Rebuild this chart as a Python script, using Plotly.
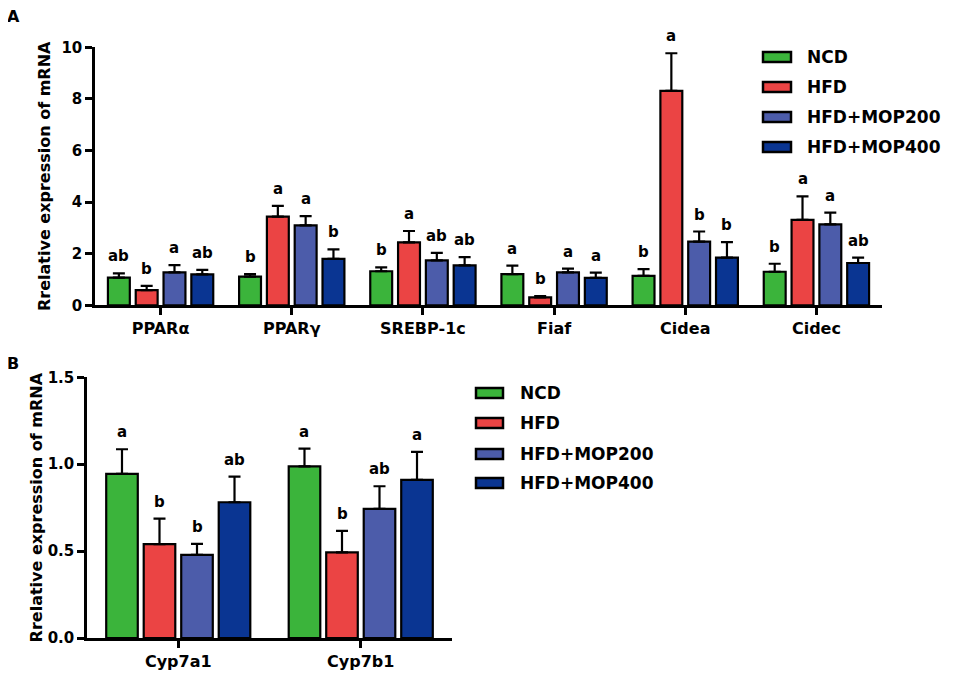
import plotly.graph_objects as go

# ---- data ----
groups = ["NCD", "HFD", "HFD+MOP200", "HFD+MOP400"]
colors = ["#3BB43B", "#EB4444", "#4C5CAA", "#0A3592"]

genes_a = ["PPARα", "PPARγ", "SREBP-1c", "Fiaf", "Cidea", "Cidec"]
mean_a = {
    "NCD":        [1.07, 1.11, 1.32, 1.21, 1.14, 1.30],
    "HFD":        [0.59, 3.44, 2.44, 0.31, 8.31, 3.31],
    "HFD+MOP200": [1.28, 3.10, 1.74, 1.28, 2.47, 3.14],
    "HFD+MOP400": [1.20, 1.80, 1.55, 1.06, 1.85, 1.64],
}
sem_a = {
    "NCD":        [0.17, 0.10, 0.15, 0.33, 0.26, 0.31],
    "HFD":        [0.16, 0.41, 0.44, 0.05, 1.46, 0.91],
    "HFD+MOP200": [0.28, 0.36, 0.29, 0.14, 0.39, 0.45],
    "HFD+MOP400": [0.17, 0.37, 0.32, 0.21, 0.60, 0.21],
}
letters_a = {
    "NCD":        ["ab", "b", "b", "a", "b", "b"],
    "HFD":        ["b", "a", "a", "b", "a", "a"],
    "HFD+MOP200": ["a", "a", "ab", "a", "b", "a"],
    "HFD+MOP400": ["ab", "b", "ab", "a", "b", "ab"],
}

genes_b = ["Cyp7a1", "Cyp7b1"]
mean_b = {
    "NCD":        [0.944, 0.988],
    "HFD":        [0.540, 0.493],
    "HFD+MOP200": [0.478, 0.743],
    "HFD+MOP400": [0.781, 0.910],
}
sem_b = {
    "NCD":        [0.142, 0.102],
    "HFD":        [0.147, 0.123],
    "HFD+MOP200": [0.063, 0.130],
    "HFD+MOP400": [0.148, 0.161],
}
letters_b = {
    "NCD":        ["a", "a"],
    "HFD":        ["b", "b"],
    "HFD+MOP200": ["b", "ab"],
    "HFD+MOP400": ["ab", "a"],
}

# page has an 8px body margin, so the figure is drawn 8px in from the corner
PAD = 8
W, H = 957 - 2 * PAD, 673 - PAD
FONT = "DejaVu Sans"


def px(x):
    return (x - PAD) / W


def py(y):
    return 1 - (y - PAD) / H


def txt(size):
    return dict(family=FONT, size=size, color="black", weight="bold")


fig = go.Figure()

# (categories, means, errors, letters, x axis, y axis, slot, bar width) -- slot/width in category units
panels = [
    (genes_a, mean_a, sem_a, letters_a, "x", "y", 0.212, 0.167),
    (genes_b, mean_b, sem_b, letters_b, "x2", "y2", 0.2055, 0.173),
]

annotations = []
for genes, means, sems, letters, xa, ya, slot, bw in panels:
    n = len(groups)
    for k, g in enumerate(groups):
        shift = (k - (n - 1) / 2) * slot
        fig.add_trace(go.Bar(
            x=genes, y=means[g], name=g, xaxis=xa, yaxis=ya,
            width=bw, offset=shift - bw / 2, showlegend=False,
            marker=dict(color=colors[k], line=dict(color="black", width=2.2)),
            error_y=dict(type="data", symmetric=False, array=sems[g],
                         arrayminus=[0] * len(genes),
                         color="black", thickness=2.2, width=6),
        ))
        for i, lab in enumerate(letters[g]):
            annotations.append(dict(
                x=i + shift, y=means[g][i] + sems[g][i],
                xref=xa, yref=ya, text=lab, showarrow=False,
                xanchor="center", yanchor="bottom", yshift=6, font=txt(15),
            ))

# legends drawn as swatches + text, one per panel
shapes = []
for x0, x1, xt, ys in [(763, 791, 805, [57, 87, 117, 147]),
                       (476, 503, 518, [393, 423, 454, 483])]:
    for k, g in enumerate(groups):
        shapes.append(dict(type="rect", xref="paper", yref="paper",
                           x0=px(x0), x1=px(x1),
                           y0=py(ys[k] + 5), y1=py(ys[k] - 5),
                           fillcolor=colors[k],
                           line=dict(color="black", width=2.5)))
        annotations.append(dict(x=px(xt), y=py(ys[k]), xref="paper", yref="paper",
                                text=g, showarrow=False, xanchor="left",
                                yanchor="middle", font=txt(17)))

for lab, yy in [("A", 16), ("B", 363)]:
    annotations.append(dict(x=px(13), y=py(yy), xref="paper", yref="paper",
                            text=lab, showarrow=False, xanchor="center",
                            yanchor="middle", font=txt(16)))

axis_style = dict(showline=True, linecolor="black", linewidth=2.5,
                  ticks="outside", ticklen=7, tickwidth=2.5, tickcolor="black",
                  showgrid=False, zeroline=False, automargin=False)
title_font = txt(16)

fig.update_layout(
    width=W, height=H,
    margin=dict(l=0, r=0, t=0, b=0),
    paper_bgcolor="white", plot_bgcolor="white",
    barmode="overlay",
    xaxis=dict(domain=[px(95), px(882)], range=[-0.5, 5.5], anchor="y",
               tickfont=txt(16), **axis_style),
    yaxis=dict(domain=[py(305.3), py(47.3)], range=[0, 10], dtick=2, anchor="x",
               tickfont=txt(15),
               title=dict(text="Rrelative expression of mRNA", font=title_font, standoff=7),
               **axis_style),
    xaxis2=dict(domain=[px(87), px(452)], range=[-0.5, 1.5], anchor="y2",
                tickfont=txt(16), **axis_style),
    yaxis2=dict(domain=[py(638), py(377.3)], range=[0, 1.5], dtick=0.5, tickformat=".1f",
                anchor="x2", tickfont=txt(15),
                title=dict(text="Rrelative expression of mRNA", font=title_font, standoff=2),
                **axis_style),
    annotations=annotations,
    shapes=shapes,
)

fig.write_html("out.html")
